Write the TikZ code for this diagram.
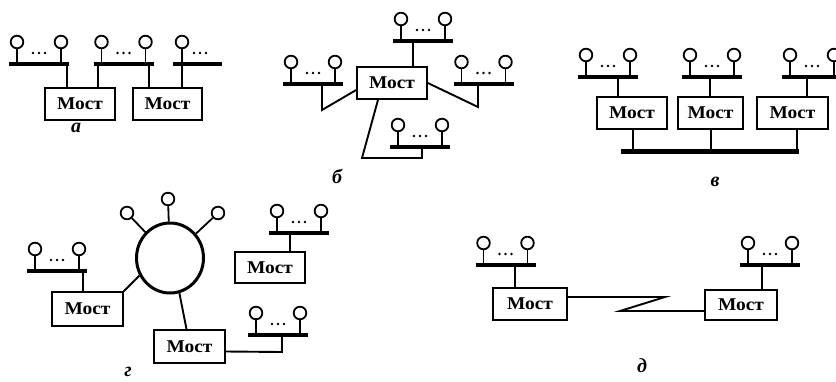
\documentclass[tikz,border=0pt]{standalone}
\usepackage{fontspec}
\usetikzlibrary{shapes.geometric}
\setmainfont{Liberation Serif}
\newfontfamily\mostfont[FakeStretch=1.08]{Liberation Serif}
\begin{document}
\begin{tikzpicture}[x=1pt,y=-1pt,
  bus/.style={line width=3.3pt},
  mainbus/.style={line width=5pt},
  wire/.style={line width=1.9pt},
  station/.style={line width=1.8pt},
  bridge/.style={draw,line width=1.7pt,minimum width=70pt,minimum height=32pt,
    inner sep=0pt,font=\mostfont\bfseries\fontsize{18}{18}\selectfont},
  ring/.style={line width=3pt},
  caption/.style={font=\bfseries\itshape\fontsize{20}{20}\selectfont},
  lan/.pic={
    \draw[bus] (-30,0) -- (30,0);
    \foreach \s in {-22,22}{
      \draw[station] (\s,0) -- (\s,-16);
      \draw[station] (\s,-22) circle[radius=6.3];
    }
    \foreach \d in {-6,0,6} \fill (\d,-11) circle[radius=1.4];
  }]
\fill[white] (0,0) rectangle (836,381);
\useasboundingbox (0,0) rectangle (836,381);
\clip (0,0) rectangle (836,381);

% ---------- (a) two bridges in a chain ----------
\node[bridge] (a1) at (80,104) {Мост};
\node[bridge,minimum width=69pt] (a2) at (167.5,104) {Мост};
\pic at (39,64) {lan};
\pic at (123.5,64) {lan};
% open-ended segment on the right
\draw[bus] (173,64) -- (222,64);
\draw[station] (182,64) -- (182,48);
\draw[station] (182,42) circle[radius=6.3];
\foreach \d in {194,200,206} \fill (\d,53) circle[radius=1.4];
\coordinate (ta1) at (67,64);
\coordinate (ta2) at (98,64);
\coordinate (ta3) at (149,64);
\coordinate (ta4) at (182,64);
\draw[wire] (ta1) -- (ta1 |- a1.north);
\draw[wire] (ta2) -- (ta2 |- a1.north);
\draw[wire] (ta3) -- (ta3 |- a2.north);
\draw[wire] (ta4) -- (ta4 |- a2.north);
\node[caption] (capa) at (76,128) {а};

% ---------- (b) one bridge, four segments ----------
\node[bridge] (b0) at (392,83) {Мост};
\pic at (423,41) {lan};
\pic at (313,84) {lan};
\pic at (483.5,84) {lan};
\pic at (420,147) {lan};
\coordinate (tb1) at (413,41);
\coordinate (tb2) at (322,84);
\coordinate (tb3) at (478,84);
\coordinate (tb4) at (422,147);
\draw[wire] (tb1) -- (tb1 |- b0.north);
\draw[wire] (tb2) -- (322,110) -- ([yshift=-7pt]b0.west);
\draw[wire] (b0.east) -- (478,107) -- (tb3);
\draw[wire] ([xshift=-14pt]b0.south) -- (362,158) -- (tb4 |- 0,158) -- (tb4);
\node[caption] (capb) at (337,176) {б};

% ---------- (c) bridges to a backbone ----------
\node[bridge] (c1) at (632,113) {Мост};
\node[bridge,minimum width=65pt] (c2) at (710.5,113) {Мост};
\node[bridge,minimum width=71pt] (c3) at (792.5,113) {Мост};
\pic at (608,77) {lan};
\pic at (712,77) {lan};
\pic at (812,77) {lan};
\coordinate (tc1) at (618,77);
\coordinate (tc2) at (710,77);
\coordinate (tc3) at (807,77);
\draw[wire] (tc1) -- (tc1 |- c1.north);
\draw[wire] (tc2) -- (tc2 |- c2.north);
\draw[wire] (tc3) -- (tc3 |- c3.north);
\coordinate (bbL) at (621,151);
\coordinate (bbR) at (799,151);
\draw[mainbus] (bbL) -- (bbR);
\coordinate (bc1) at (633,151);
\coordinate (bc2) at (711,151);
\coordinate (bc3) at (797,151);
\draw[wire] (bc1 |- c1.south) -- (bc1);
\draw[wire] (bc2 |- c2.south) -- (bc2);
\draw[wire] (bc3 |- c3.south) -- (bc3);
\node[caption] (capc) at (715,182) {в};

% ---------- (d) bridges on a ring ----------
\node[ellipse,draw,ring,minimum width=67pt,minimum height=70pt,inner sep=0pt] (rg) at (170,258) {};
\node[circle,draw,station,minimum size=12.6pt,inner sep=0pt] (r1) at (127,213) {};
\node[circle,draw,station,minimum size=12.6pt,inner sep=0pt] (r2) at (168,199) {};
\node[circle,draw,station,minimum size=12.6pt,inner sep=0pt] (r3) at (218,213) {};
\draw[station] (r1) -- (rg);
\draw[station] (r2) -- (rg);
\draw[station] (r3) -- (rg);
\node[bridge,minimum width=71pt,minimum height=34pt] (gL) at (87.5,309) {Мост};
\node[bridge,minimum height=31pt] (gT) at (270,267.5) {Мост};
\node[bridge,minimum width=71pt,minimum height=33pt] (gB) at (189.5,346.5) {Мост};
\pic at (57,271) {lan};
\pic at (299,233) {lan};
\pic at (278,335) {lan};
\coordinate (tg1) at (83,271);
\coordinate (tg2) at (290,233);
\coordinate (tg3) at (282,335);
\draw[wire] (tg1) -- (tg1 |- gL.north);
\draw[wire] (tg2) -- (tg2 |- gT.north);
\draw[wire] (gL.north east) -- (rg.210);
\draw[wire] (rg.285) -- ([xshift=-3pt]gB.north);
\draw[wire] ([yshift=-5pt]gB.east) -- (tg3 |- 0,352) -- (tg3);
\node[caption] (capd) at (128,372) {г};

% ---------- (e) remote bridges over a link ----------
\node[bridge,minimum width=74pt] (dL) at (530,304) {Мост};
\node[bridge,minimum width=72pt,minimum height=30pt] (dR) at (741,305) {Мост};
\pic at (505.5,265) {lan};
\pic at (770,265) {lan};
\coordinate (td1) at (515,265);
\coordinate (td2) at (762,265);
\draw[wire] (td1) -- (td1 |- dL.north);
\draw[wire] (td2) -- (td2 |- dR.north);
\draw[wire] ([yshift=7pt]dL.east) -- (665,297) -- (620,311) -- ([yshift=-6pt]dR.west);
\node[caption] (cape) at (642,366) {д};
\end{tikzpicture}
\end{document}
